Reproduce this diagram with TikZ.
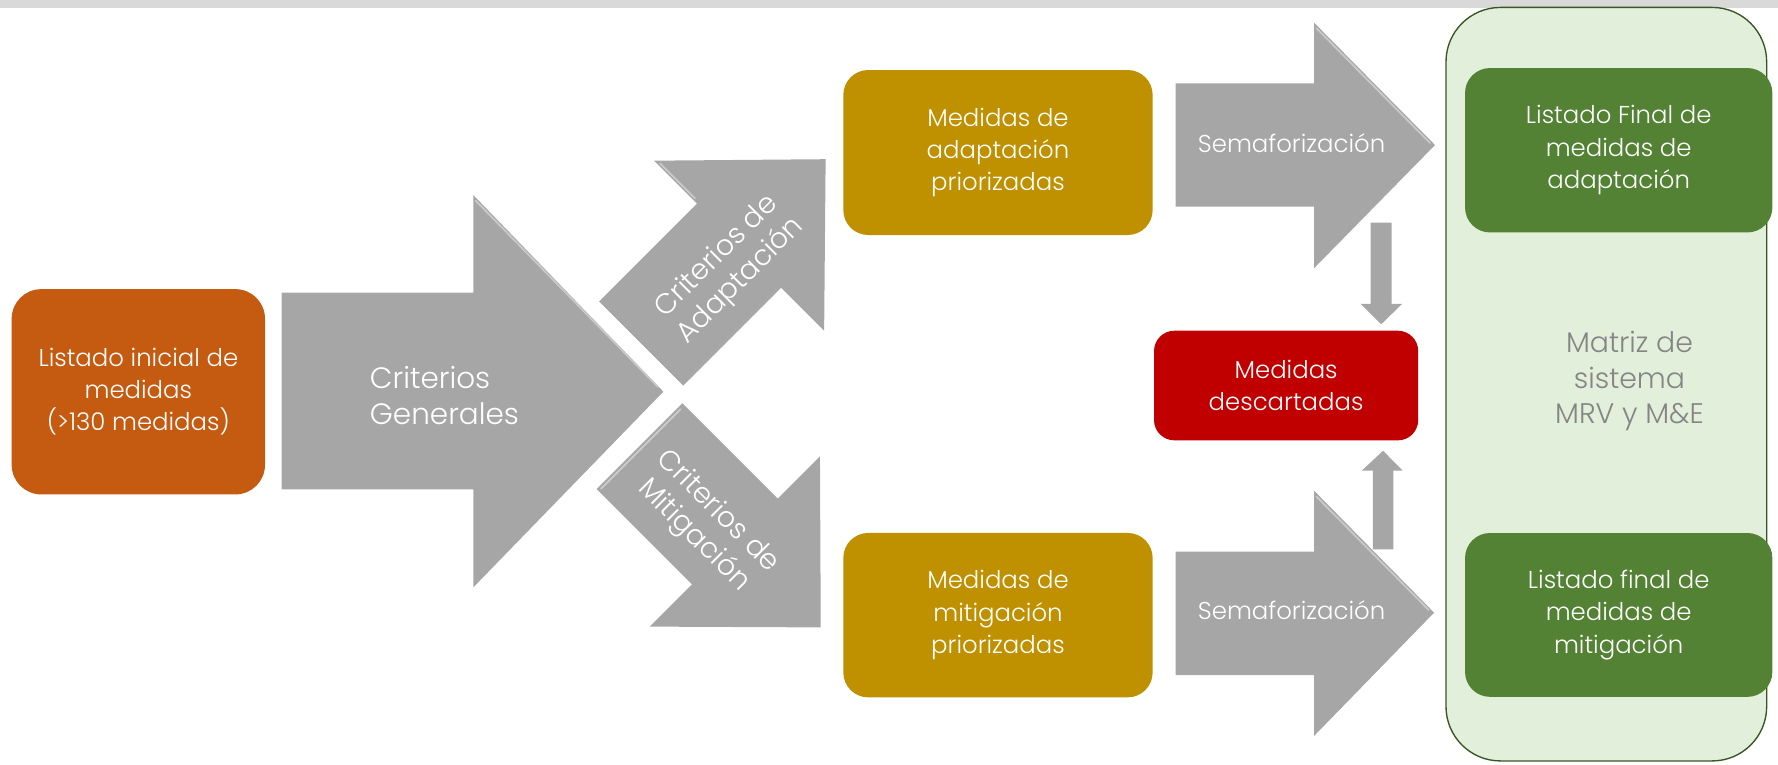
\documentclass[tikz,border=0pt]{standalone}
\usepackage{fontspec}
\setmainfont{Poppins Light}
\newcommand{\fsz}[2]{\fontsize{#1}{#2}\selectfont}
\definecolor{orangeC}{HTML}{C55A11}
\definecolor{arrowC}{HTML}{A6A6A6}
\definecolor{hiC}{HTML}{C9C9C9}
\definecolor{goldC}{HTML}{BF9000}
\definecolor{redC}{HTML}{C00000}
\definecolor{greenC}{HTML}{548235}
\definecolor{panelC}{HTML}{E2EFDA}
\definecolor{panelLine}{HTML}{375623}
\definecolor{barC}{HTML}{D9D9D9}
\definecolor{matrizC}{HTML}{858585}
\begin{document}
\begin{tikzpicture}[x=1pt,y=-1pt,
  card/.style={rounded corners=22pt, inner sep=0pt, align=center, text=white, font=\fsz{21.5}{28.5}},
  shapearrow/.style={fill=arrowC, draw=none},
  bevel/.style={draw=hiC, line width=1.6pt, line cap=round},
  arrowtext/.style={inner sep=0pt, align=center, text=white, font=\fsz{21.5}{28}},
  panel/.style={fill=panelC, draw=panelLine, line width=1.2pt, rounded corners=48pt, inner sep=0pt}
]
\useasboundingbox (0,0) rectangle (1568,674);
% top bar
\fill[barC] (0,0) rectangle (1568,6.8);

% right panel
\node[panel, minimum width=282.8pt, minimum height=664.5pt] (panel) at (1416.6,338.8) {};
\node[inner sep=0pt, align=center, text=matrizC, font=\fsz{25}{31}] (matriz) at (1437,336) {Matriz de\\sistema\\MRV y M\&E};

% big arrow
\fill[shapearrow] (248.4,258.1) -- (417.4,258.1) -- (417.4,172) -- (585,345.4) -- (417.4,518) -- (417.4,431.5) -- (248.4,431.5) -- cycle;
\draw[bevel] (419.5,177) -- (580,341);
\node[arrowtext, anchor=west, align=left, font=\fsz{26}{32}] (generales) at (326,349) {Criterios\\Generales};

% adaptacion diagonal arrow
\fill[shapearrow] (528.4,265.9) -- (614.7,179.6) -- (576.8,141.7) -- (728.1,140.4) -- (726.8,291.7) -- (688.9,253.8) -- (602.6,340.1) -- cycle;
\draw[bevel] (582,144) -- (613,175);
\node[arrowtext, rotate=45, font=\fsz{25}{30}] (critA) at (643,237) {Criterios de\\Adaptaci\'on};

% mitigacion diagonal arrow
\fill[shapearrow] (601.8,355.7) -- (685.9,439.8) -- (723.1,402.6) -- (723.8,553.3) -- (573.1,552.6) -- (610.3,515.4) -- (526.2,431.3) -- cycle;
\draw[bevel] (530,431) -- (600,361);
\node[arrowtext, rotate=-45, font=\fsz{25}{30}] (critM) at (622,462) {Criterios de\\Mitigaci\'on};

% semaforizacion arrows
\fill[shapearrow] (1036.8,73.5) -- (1158.8,73.5) -- (1158.8,20) -- (1265.5,127.9) -- (1158.8,236.6) -- (1158.8,182.3) -- (1036.8,182.3) -- cycle;
\draw[bevel] (1161,25) -- (1261,126);
\node[arrowtext] (semA) at (1139,126) {Semaforizaci\'on};
\fill[shapearrow] (1036.8,486.5) -- (1158.8,486.5) -- (1158.8,432.7) -- (1264.7,540.3) -- (1158.8,649.1) -- (1158.8,595.3) -- (1036.8,595.3) -- cycle;
\draw[bevel] (1161,438) -- (1260,538);
\node[arrowtext] (semM) at (1139,538) {Semaforizaci\'on};

% small vertical arrows
\fill[shapearrow] (1208.8,196.4) -- (1227.3,196.4) -- (1227.3,268) -- (1236.5,268) -- (1218,286) -- (1200,268) -- (1208.8,268) -- cycle;
\fill[shapearrow] (1210.6,484.5) -- (1228.8,484.5) -- (1228.8,415.1) -- (1237,415.1) -- (1219.7,397.5) -- (1200.9,415.1) -- (1210.6,415.1) -- cycle;

% boxes
\node[card, fill=orangeC, rounded corners=26pt, minimum width=223.4pt, minimum height=181pt] (inicial) at (122,345.5) {Listado inicial de\\medidas\\(>130 medidas)};
\node[card, fill=goldC, minimum width=272.8pt, minimum height=145.5pt] (prioA) at (880.1,134.5) {Medidas de\\adaptaci\'on\\priorizadas};
\node[card, fill=goldC, minimum width=272.8pt, minimum height=145pt] (prioM) at (880.1,542.5) {Medidas de\\mitigaci\'on\\priorizadas};
\node[card, fill=redC, rounded corners=18pt, minimum width=233pt, minimum height=96.7pt] (descartadas) at (1134.2,340) {Medidas\\descartadas};
\node[card, fill=greenC, minimum width=271pt, minimum height=145pt] (finalA) at (1427.5,132.5) {Listado Final de\\medidas de\\adaptaci\'on};
\node[card, fill=greenC, minimum width=271pt, minimum height=144.5pt] (finalM) at (1427.5,542.3) {Listado final de\\medidas de\\mitigaci\'on};
\end{tikzpicture}
\end{document}
